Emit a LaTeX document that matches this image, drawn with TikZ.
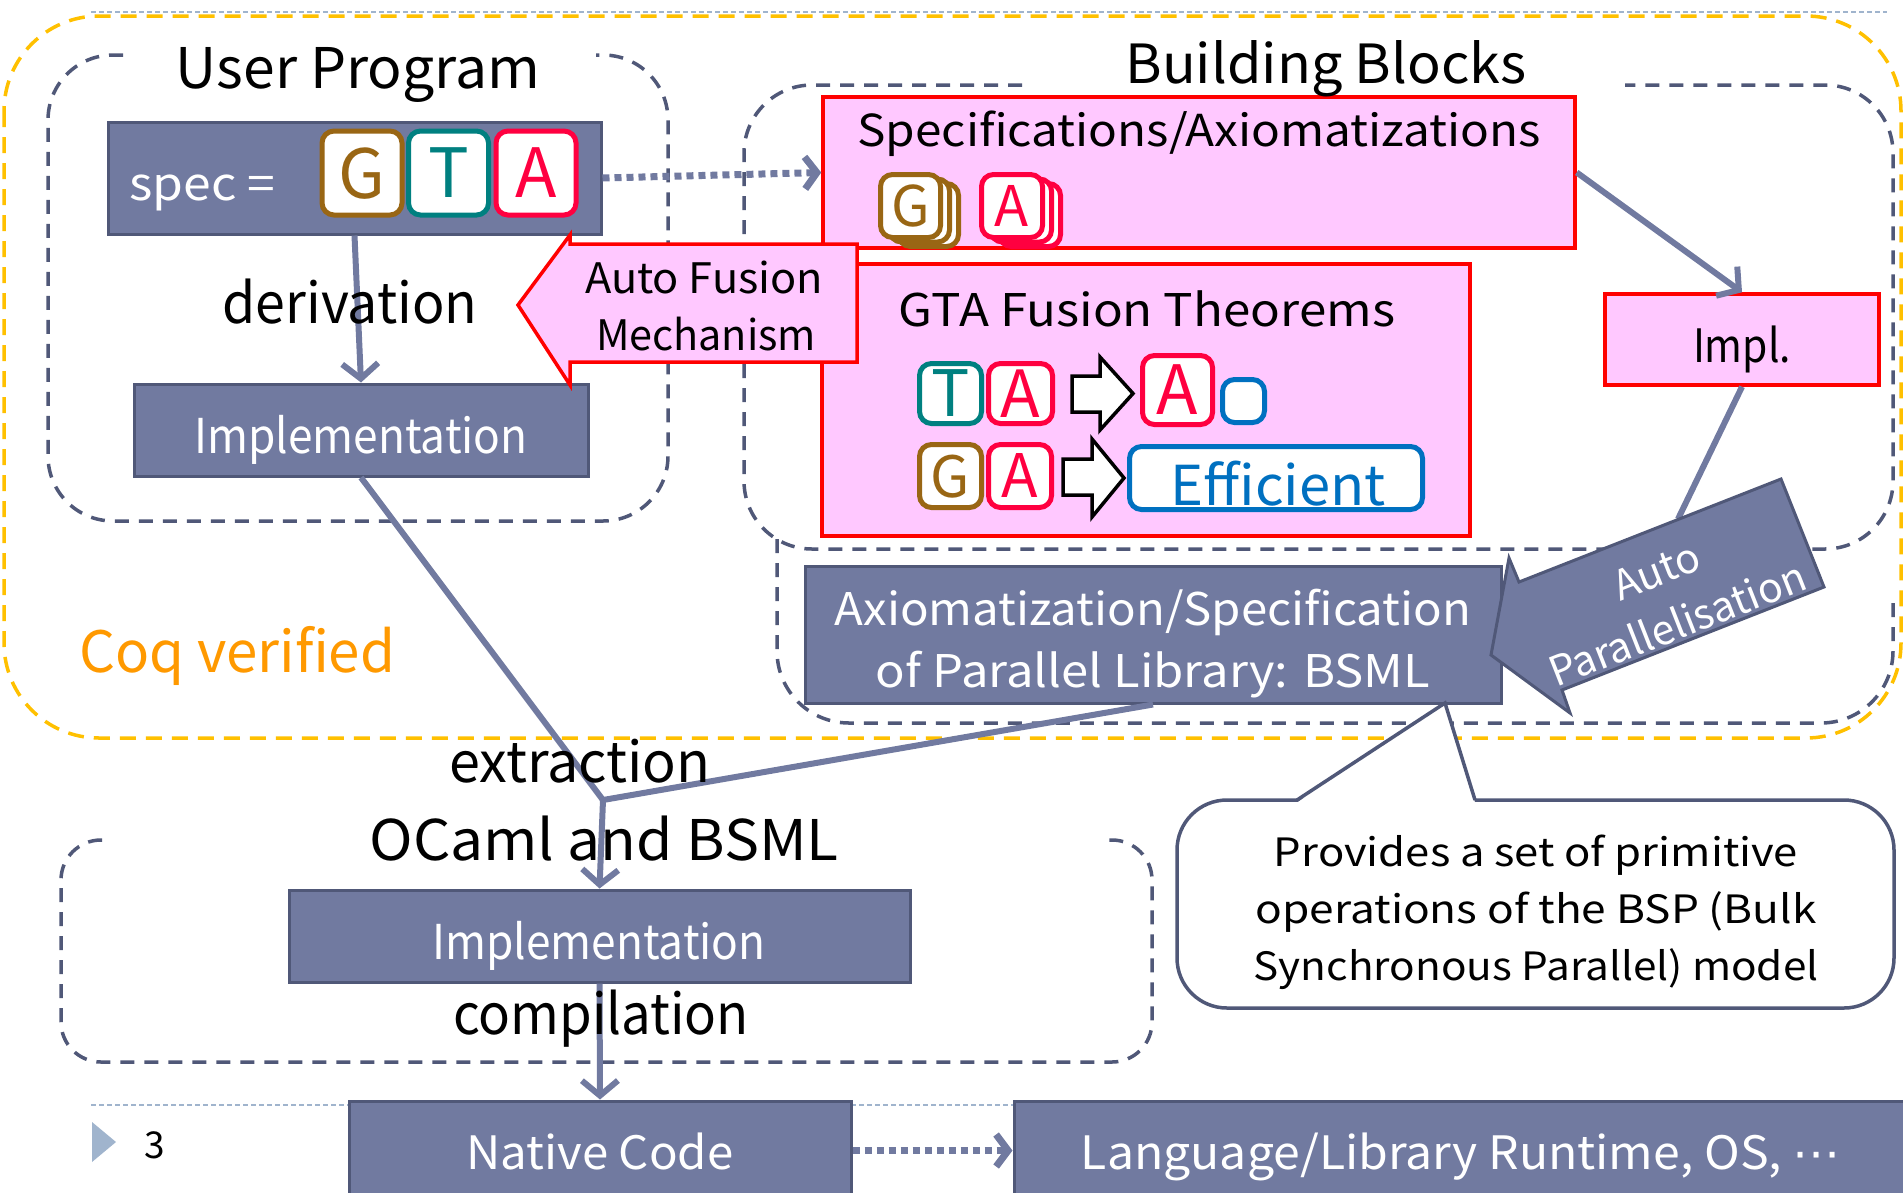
\documentclass[tikz,border=0pt]{standalone}
\usepackage{graphicx}
\usepackage{fontspec}
\setmainfont{Noto Sans CJK JP}
\newfontfamily\dejavu{DejaVu Sans}
\usetikzlibrary{arrows.meta}
\definecolor{boxfill}{RGB}{113,122,160}
\definecolor{boxedge}{RGB}{80,88,120}
\definecolor{dashc}{RGB}{80,88,120}
\definecolor{connc}{RGB}{113,122,160}
\definecolor{pinkf}{RGB}{255,200,255}
\definecolor{redb}{RGB}{255,0,0}
\definecolor{gcol}{RGB}{153,102,20}
\definecolor{tcol}{RGB}{0,128,128}
\definecolor{acol}{RGB}{255,0,64}
\definecolor{bcol}{RGB}{0,112,192}
\definecolor{orng}{RGB}{255,192,0}
\definecolor{coqc}{RGB}{255,153,0}
\definecolor{slidec}{RGB}{160,180,205}
\newcommand\fsz[1]{\fontsize{#1}{#1}\selectfont}
\newcommand\fitw[2]{\resizebox{#1pt}{\height}{#2}}
\begin{document}
\begin{tikzpicture}[x=1pt,y=-1pt,
  darkbox/.style={draw=boxedge, fill=boxfill, line width=3pt, inner sep=0pt},
  pinkbox/.style={draw=redb, fill=pinkf, line width=3.5pt, inner sep=0pt},
  dashbox/.style={draw=dashc, line width=3.5pt, dash pattern=on 14pt off 10pt, rounded corners=#1},
  dashbox/.default=65pt,
  orangebox/.style={draw=orng, line width=3.5pt, dash pattern=on 16pt off 10pt, rounded corners=95pt},
  gtatile/.style={draw=#1, text=#1, fill=white, line width=5pt, rounded corners=12pt, inner sep=0pt, text depth=0pt},
  wlab/.style={text=white, inner sep=0pt, anchor=base},
  blab/.style={text=black, inner sep=0pt, anchor=base},
  conn/.style={draw=connc, line width=6pt},
  arr/.style={conn, -{Straight Barb[length=15pt,width=36pt]}},
  dotarr/.style={draw=connc, line width=7pt, dash pattern=on 7pt off 5pt, -{Straight Barb[length=12pt,width=32pt]}},
  blockarr/.style={draw=black, fill=white, line width=3.5pt, line join=miter},
  callout/.style={draw=dashc, fill=white, line width=3.5pt}
]
\useasboundingbox (0,0) rectangle (1903,1192);

% slide decorations
\draw[slidec, line width=1.5pt, dash pattern=on 5pt off 3pt] (91,12) -- (1887,12);
\draw[slidec, line width=1.5pt, dash pattern=on 5pt off 3pt] (91,1105) -- (1887,1105);
\fill[slidec] (92,1122) -- (116,1142) -- (92,1162) -- cycle;
\node[blab, font=\fsz{37}] (pagenum) at (155,1158) {3};

% Coq verified region
\draw[orangebox] (4,16) rectangle (1901,738);

% dashed groups
\draw[dashbox=65pt] (123,55) -- (48,55) -- (48,521) -- (668,521) -- (668,55) -- (596,55);
\draw[dashbox=68pt] (1022,85) -- (744,85) -- (744,549) -- (1893,549) -- (1893,85) -- (1625,85);
\draw[dashbox=72pt] (777,539) -- (777,723) -- (1893,723) -- (1893,600);
\draw[dashbox=40pt] (102,840) -- (61,840) -- (61,1062) -- (1152,1062) -- (1152,840) -- (1105,840);

% user program
\node[darkbox, minimum width=493pt, minimum height=112pt] (spec) at (354.5,178) {};
\node[wlab, anchor=base west, font=\fsz{46}] (spectxt) at (129,200) {\fitw{146}{spec =}};
\node[gtatile=gcol, minimum width=80pt, minimum height=84pt, font=\fsz{68}] (tg) at (362,173) {G};
\node[gtatile=tcol, minimum width=80pt, minimum height=84pt, font=\fsz{68}] (tt) at (448.5,173) {T};
\node[gtatile=acol, minimum width=80pt, minimum height=84pt, font=\fsz{68}] (ta) at (536,173) {A};
\node[darkbox, minimum width=454pt, minimum height=92pt] (impl1) at (361,430) {};

% building blocks
\node[pinkbox, minimum width=752pt, minimum height=151pt] (specax) at (1199,172.5) {};
\node[gtatile=gcol, minimum width=60pt, minimum height=63pt] (sg3) at (928.5,215) {};
\node[gtatile=gcol, minimum width=60pt, minimum height=63pt] (sg2) at (919.5,210.5) {};
\node[gtatile=gcol, minimum width=60pt, minimum height=63pt, font=\fsz{56}] (sg1) at (910.5,206) {G};
\node[gtatile=acol, minimum width=61pt, minimum height=63pt] (sa3) at (1030,215) {};
\node[gtatile=acol, minimum width=61pt, minimum height=63pt] (sa2) at (1021,210.5) {};
\node[gtatile=acol, minimum width=61pt, minimum height=63pt, font=\fsz{56}] (sa1) at (1012,206) {A};

\node[pinkbox, minimum width=648pt, minimum height=272pt] (gta) at (1146,400) {};
\node[gtatile=tcol, minimum width=62pt, minimum height=60pt, font=\fsz{64}] (r1t) at (950.5,393.5) {T};
\node[gtatile=acol, minimum width=64pt, minimum height=60pt, font=\fsz{65}] (r1a) at (1020.5,393.5) {A};
\node[gtatile=acol, minimum width=70pt, minimum height=69pt, font=\fsz{68}] (r1big) at (1177.5,390) {A};
\node[gtatile=bcol, minimum width=42pt, minimum height=43pt] (r1sq) at (1243.5,401) {};
\node[gtatile=gcol, minimum width=62pt, minimum height=63pt, font=\fsz{57}] (r2g) at (950.5,476) {G};
\node[gtatile=acol, minimum width=63pt, minimum height=63pt, font=\fsz{60}] (r2a) at (1020,476) {A};
\node[gtatile=bcol, minimum width=293pt, minimum height=63pt] (eff) at (1276,478) {};
\draw[blockarr] (1072,376) -- (1100,376) -- (1100,357) -- (1133,393.5) -- (1100,430) -- (1100,412) -- (1072,412) -- cycle;
\draw[blockarr] (1063,459) -- (1092,459) -- (1092,439) -- (1124,478) -- (1092,517) -- (1092,495) -- (1063,495) -- cycle;

\node[pinkbox, minimum width=274pt, minimum height=91pt] (implr) at (1742,339.5) {};
\node[darkbox, minimum width=696pt, minimum height=137pt] (axiom) at (1153,634.5) {};

% lower part
\node[darkbox, minimum width=621pt, minimum height=92pt] (impl2) at (599.5,936) {};
\node[darkbox, minimum width=502pt, minimum height=99pt] (native) at (600,1150.5) {};
\node[darkbox, minimum width=896pt, minimum height=99pt] (lang) at (1462,1150.5) {};

% callout
\node[callout, rounded corners=50pt, minimum width=717pt, minimum height=208pt] (note) at (1535.5,904) {};
\fill[white] (1297,802.5) -- (1445,703) -- (1475,802.5) -- cycle;
\coordinate (notetip) at (1445,703);
\draw[callout, fill=none, line join=miter] (1297,800) -- (notetip) -- (1475,800);

% connectors
\coordinate (junc) at (603,800);
\coordinate (apedge) at (1678,519);
\draw[arr] (spec.south) -- (impl1.north);
\draw[dotarr] (spec.east) -- (specax.west);
\draw[conn] (impl1.south) -- (junc);
\draw[conn] (axiom.south) -- (junc);
\draw[arr] (junc) -- (impl2.north);
\draw[arr] (impl2.south) -- (native.north);
\draw[dotarr] (native.east) -- (lang.west);
\draw[arr] (specax.east) -- (implr.north);
\draw[conn] (implr.south) -- (apedge);

% Auto Fusion arrow
\draw[pinkbox] (518,305) -- (570,235) -- (570,244) -- (857,244) -- (857,362) -- (570,362) -- (570,385) -- cycle;
\node[blab, font=\fsz{42}] (af1) at (704,293) {\fitw{238}{Auto Fusion}};
\node[blab, font=\fsz{42}] (af2) at (706,350) {\fitw{220}{Mechanism}};

% Auto Parallelisation arrow
\draw[darkbox] (1491,655) -- (1509,558) -- (1519,582) -- (1781,479) -- (1824,587) -- (1562,690) -- (1570,713) -- cycle;
\node[text=white, inner sep=0pt, rotate=21.46, font=\fsz{41}] (ap1) at (1657,571) {Auto};
\node[text=white, inner sep=0pt, rotate=21.46, font=\fsz{41}] (ap2) at (1677,623) {Parallelisation};

% labels
\node[blab, font=\fsz{56}] (tup) at (358,88) {\fitw{364}{User Program}};
\node[blab, font=\fsz{54}] (tbb) at (1326,83) {\fitw{401}{Building Blocks}};
\node[blab, font=\fsz{56}] (tder) at (350,323) {\fitw{255}{derivation}};
\node[wlab, font=\fsz{48}] (timpl1) at (361,453) {\fitw{333}{Implementation}};
\node[blab, font=\fsz{44}] (tspecax) at (1199,146) {\fitw{683}{Specifications/Axiomatizations}};
\node[blab, font=\fsz{45}] (tgta) at (1147,326) {\fitw{496}{GTA Fusion Theorems}};
\node[text=bcol, inner sep=0pt, anchor=base, font=\fsz{55}] (teff) at (1278,505) {\fitw{215}{Efficient}};
\node[blab, font=\fsz{46}] (timplr) at (1742,362) {\fitw{98}{Impl.}};
\node[wlab, font=\fsz{45}] (tax1) at (1153,625) {\fitw{636}{Axiomatization/Specification}};
\node[wlab, font=\fsz{45}] (tax2) at (1153,687) {\fitw{554}{of Parallel Library: BSML}};
\node[text=coqc, inner sep=0pt, anchor=base west, font=\fsz{57}] (tcoq) at (79,672) {\fitw{316}{Coq verified}};
\node[blab, font=\fsz{56}] (text) at (580,782) {\fitw{261}{extraction}};
\node[blab, font=\fsz{56}] (tocaml) at (604,860) {\fitw{469}{OCaml and BSML}};
\node[wlab, font=\fsz{48}] (timpl2) at (599,959) {\fitw{333}{Implementation}};
\node[blab, font=\fsz{56}] (tcomp) at (601,1034) {\fitw{296}{compilation}};
\node[wlab, font=\fsz{46}] (tnat) at (600,1169) {\fitw{267}{Native Code}};
\node[wlab, font=\fsz{46}] (tlang) at (1461,1169) {\fitw{760}{Language/Library Runtime, OS, {\dejavu ⋯}}};
\node[blab, font=\fsz{39}] (tn1) at (1536,866) {\fitw{524}{Provides a set of primitive}};
\node[blab, font=\fsz{39}] (tn2) at (1536,923) {\fitw{561}{operations of the BSP (Bulk}};
\node[blab, font=\fsz{39}] (tn3) at (1536,980) {\fitw{565}{Synchronous Parallel) model}};
\end{tikzpicture}
\end{document}
